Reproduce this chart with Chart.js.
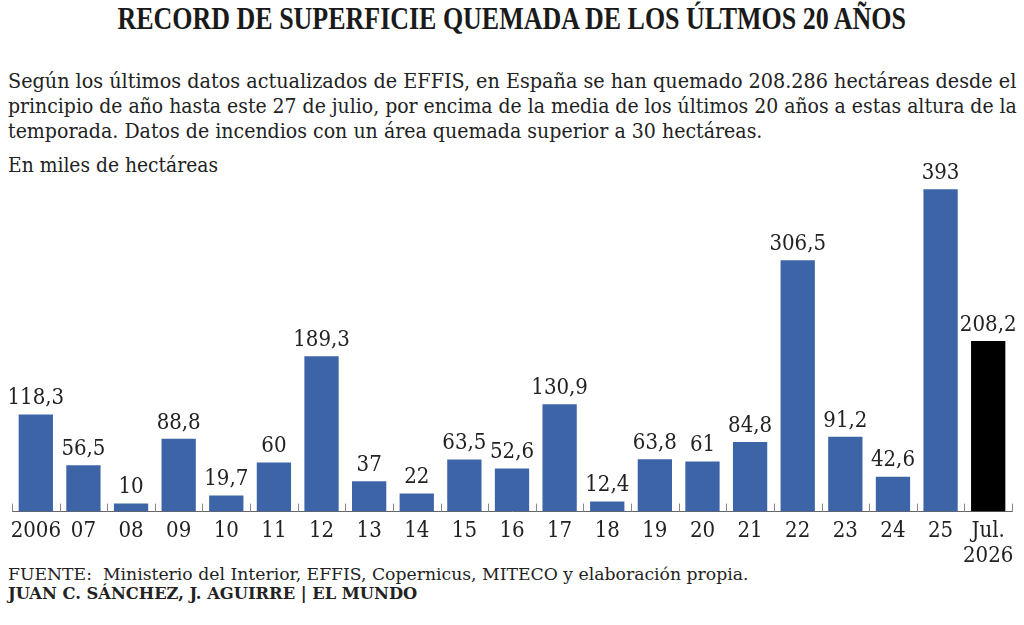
<!DOCTYPE html>
<html>
<head>
<meta charset="utf-8">
<script src="https://cdn.jsdelivr.net/npm/chart.js@4"></script>
<style>
  body { margin: 0; width: 1024px; height: 625px; background: #fff; position: relative; overflow: hidden; color: #222; }
  .txt { position: absolute; white-space: nowrap; left: 8px; }
  #title { font-family: "Liberation Serif", serif; font-weight: bold; font-size: 32px; top: 8px; left: 0; width: 1024px; text-align: center; color: #1a1a1a; }
  #title span { display: inline-block; transform-origin: center; }
  .sub { font-family: "DejaVu Serif Condensed", "DejaVu Serif", serif; font-size: 21px; transform-origin: left; }
  .foot { font-family: "DejaVu Serif Condensed", "DejaVu Serif", serif; font-size: 17px; transform-origin: left; }
  #chartBox { position: absolute; left: 0; top: 150px; width: 1024px; height: 418px; }
</style>
</head>
<body>
<div id="title"><span>RECORD DE SUPERFICIE QUEMADA DE LOS ÚLTMOS 20 AÑOS</span></div>
<div class="txt sub" style="top:69px" data-w="1008">Según los últimos datos actualizados de EFFIS, en España se han quemado 208.286 hectáreas desde el</div>
<div class="txt sub" style="top:94px" data-w="1009">principio de año hasta este 27 de julio, por encima de la media de los últimos 20 años a estas altura de la</div>
<div class="txt sub" style="top:119px" data-w="754">temporada. Datos de incendios con un área quemada superior a 30 hectáreas.</div>
<div class="txt sub" style="top:153px" data-w="210">En miles de hectáreas</div>
<div class="txt foot" style="top:564px" data-w="740">FUENTE:&nbsp; Ministerio del Interior, EFFIS, Copernicus, MITECO y elaboración propia.</div>
<div class="txt foot" style="top:583px; font-weight:bold" data-w="409">JUAN C. SÁNCHEZ, J. AGUIRRE | EL MUNDO</div>
<div id="chartBox"><canvas id="chart"></canvas></div>
<script>
// Data
const years = ['2006', '07', '08', '09', '10', '11', '12', '13', '14', '15', '16', '17', '18', '19', '20', '21', '22', '23', '24', '25', ['Jul.', '2026']];
const burned = [118.3, 56.5, 10, 88.8, 19.7, 60, 189.3, 37, 22, 63.5, 52.6, 130.9, 12.4, 63.8, 61, 84.8, 306.5, 91.2, 42.6, 393, 208.2];
const barColors = burned.map((v, i) => i === burned.length - 1 ? '#000000' : '#3c64a7');

// squeeze text lines to the widths seen in the reference
document.querySelectorAll('.txt').forEach(el => {
    const w = +el.dataset.w;
    el.style.transform = 'scaleX(' + (w / el.scrollWidth) + ')';
});
const t = document.querySelector('#title span');
t.style.transform = 'scaleX(' + (788 / t.offsetWidth) + ')';

const labelFont = { family: '"DejaVu Serif Condensed", "DejaVu Serif", serif', size: 22 };

// value labels above each bar
const valueLabels = {
    id: 'valueLabels',
    afterDatasetsDraw(chart) {
        const ctx = chart.ctx;
        const meta = chart.getDatasetMeta(0);
        ctx.save();
        ctx.font = labelFont.size + 'px ' + labelFont.family;
        ctx.fillStyle = '#222';
        ctx.textAlign = 'center';
        ctx.textBaseline = 'bottom';
        meta.data.forEach((bar, i) => {
            ctx.fillText(String(burned[i]).replace('.', ','), bar.x, bar.y - 5);
        });
        ctx.restore();
    }
};

// small ticks between categories, pointing up from the baseline
const sepTicks = {
    id: 'sepTicks',
    afterDraw(chart) {
        const x = chart.scales.x;
        const ctx = chart.ctx;
        const base = chart.chartArea.bottom;
        const step = x.getPixelForValue(1) - x.getPixelForValue(0);
        ctx.save();
        ctx.strokeStyle = '#888';
        ctx.lineWidth = 1;
        for (let i = 0; i <= burned.length; i++) {
            const px = Math.round(x.getPixelForValue(i) - step / 2) + 0.5;
            ctx.beginPath();
            ctx.moveTo(px, base);
            ctx.lineTo(px, base - 8);
            ctx.stroke();
        }
        ctx.restore();
    }
};

new Chart(document.getElementById('chart').getContext('2d'), {
    type: 'bar',
    data: {
        labels: years,
        datasets: [{
            data: burned,
            backgroundColor: barColors,
            borderWidth: 0,
            barPercentage: 0.72,
            categoryPercentage: 1
        }]
    },
    options: {
        responsive: true,
        maintainAspectRatio: false,
        animation: false,
        layout: { padding: { top: 9, left: 12, right: 12, bottom: 0 } },
        scales: {
            y: { display: false, min: 0, max: 430 },
            x: {
                grid: { display: false },
                border: { display: true, color: '#666', width: 1 },
                ticks: { color: '#222', font: { family: labelFont.family, size: 22, lineHeight: 1.1 }, padding: 0, maxRotation: 0, autoSkip: false }
            }
        },
        plugins: {
            legend: { display: false },
            tooltip: { enabled: false }
        }
    },
    plugins: [valueLabels, sepTicks]
});
</script>
</body>
</html>
